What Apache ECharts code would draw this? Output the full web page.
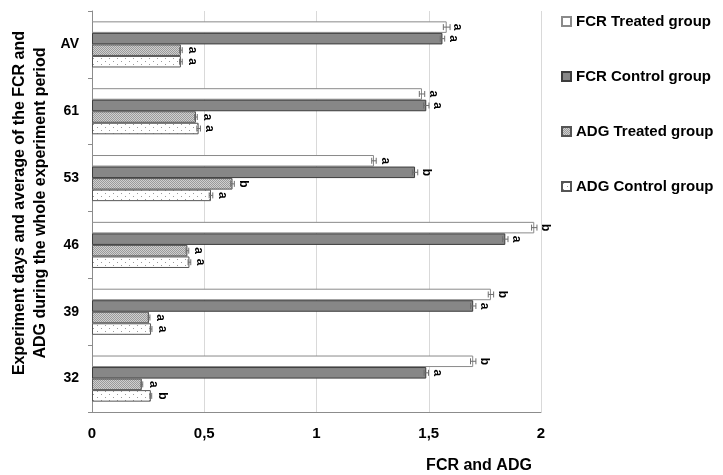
<!DOCTYPE html>
<html>
<head>
<meta charset="utf-8">
<script src="https://cdn.jsdelivr.net/npm/echarts@6/dist/echarts.min.js"></script>
<style>
html,body{margin:0;padding:0;background:#fff;}
#chart{width:723px;height:475px;}
</style>
</head>
<body>
<div id="chart"></div>
<script>
// ---- data ----
var categories = ['AV', '61', '53', '46', '39', '32'];
var seriesNames = ['FCR Treated group', 'FCR Control group', 'ADG Treated group', 'ADG Control group'];
var fcrTreated = [1.58, 1.47, 1.256, 1.97, 1.777, 1.698];
var fcrControl = [1.561, 1.489, 1.439, 1.841, 1.698, 1.489];
var adgTreated = [0.396, 0.463, 0.626, 0.425, 0.254, 0.222];
var adgControl = [0.396, 0.475, 0.53, 0.434, 0.263, 0.262];
var fcrTreatedErr = [0.015, 0.012, 0.01, 0.012, 0.012, 0.012];
var fcrControlErr = [0.01, 0.012, 0.012, 0.012, 0.012, 0.01];
var adgTreatedErr = [0.006, 0.006, 0.008, 0.006, 0.004, 0.004];
var adgControlErr = [0.006, 0.008, 0.008, 0.006, 0.004, 0.004];
var fcrTreatedSig = ['a', 'a', 'a', 'b', 'b', 'b'];
var fcrControlSig = ['a', 'a', 'b', 'a', 'a', 'a'];
var adgTreatedSig = ['a', 'a', 'b', 'a', 'a', 'a'];
var adgControlSig = ['a', 'a', 'a', 'a', 'a', 'b'];
var xTicks = [0, 0.5, 1, 1.5, 2];

var values = [fcrTreated, fcrControl, adgTreated, adgControl];
var errs = [fcrTreatedErr, fcrControlErr, adgTreatedErr, adgControlErr];
var sigs = [fcrTreatedSig, fcrControlSig, adgTreatedSig, adgControlSig];

// ---- patterns ----
function makePattern(w, h, bg, dots, dotColor) {
  var c = document.createElement('canvas');
  c.width = w; c.height = h;
  var ctx = c.getContext('2d');
  ctx.fillStyle = bg; ctx.fillRect(0, 0, w, h);
  ctx.fillStyle = dotColor;
  dots.forEach(function (d) { ctx.fillRect(d[0], d[1], 1, 1); });
  return c;
}
var densePat = makePattern(2, 2, '#d0d0d0', [[0, 0], [1, 1]], '#9a9a9a');
var sparsePat = makePattern(8, 6, '#ffffff', [[1, 1], [5, 4]], '#9a9a9a');

var fills = [
  '#ffffff',
  '#878787',
  { image: densePat, repeat: 'repeat' },
  { image: sparsePat, repeat: 'repeat' }
];
var borders = ['#8a8a8a', '#3c3c3c', '#555555', '#555555'];

var FONT = 'Liberation Sans, Arial, sans-serif';
var catGapPct = 31;

var series = [];
seriesNames.forEach(function (name, i) {
  series.push({
    name: name,
    type: 'bar',
    data: values[i],
    barGap: '0%',
    barCategoryGap: catGapPct + '%',
    itemStyle: { color: fills[i], borderColor: borders[i], borderWidth: 1 },
    label: {
      show: true,
      position: 'right',
      distance: 11,
      rotate: -90,
      align: 'center',
      verticalAlign: 'middle',
      color: '#000',
      fontWeight: 'bold',
      fontSize: 12,
      fontFamily: FONT,
      formatter: function (p) { return sigs[i][p.dataIndex]; }
    },
    z: 2
  });
});

// error bars
var errData = [];
for (var s = 0; s < 4; s++) {
  for (var k = 0; k < categories.length; k++) {
    errData.push([values[s][k], k, s, errs[s][k]]);
  }
}
series.push({
  type: 'custom',
  name: 'err',
  data: errData,
  z: 3,
  silent: true,
  encode: { x: 0, y: 1 },
  renderItem: function (params, api) {
    var v = api.value(0), cat = api.value(1), si = api.value(2), e = api.value(3);
    var bandH = api.size([0, 1])[1];
    var groupH = bandH * (1 - catGapPct / 100);
    var bw = groupH / 4;
    var center = api.coord([v, cat]);
    var y = center[1] - groupH / 2 + bw * (si + 0.5);
    var x1 = api.coord([v - e, cat])[0];
    var x2 = api.coord([v + e, cat])[0];
    var cap = 3;
    var st = { stroke: '#6e6e6e', lineWidth: 1 };
    return {
      type: 'group',
      children: [
        { type: 'line', shape: { x1: x1, y1: y, x2: x2, y2: y }, style: st },
        { type: 'line', shape: { x1: x1, y1: y - cap, x2: x1, y2: y + cap }, style: st },
        { type: 'line', shape: { x1: x2, y1: y - cap, x2: x2, y2: y + cap }, style: st }
      ]
    };
  }
});

var chart = echarts.init(document.getElementById('chart'));
chart.setOption({
  animation: false,
  backgroundColor: '#fff',
  grid: { left: 92, right: 182, top: 11, bottom: 63, containLabel: false },
  legend: {
    data: seriesNames,
    orient: 'vertical',
    icon: 'rect',
    left: 556,
    top: 9,
    itemWidth: 9,
    itemHeight: 9,
    itemGap: 40,
    textStyle: { fontSize: 15, fontWeight: 'bold', color: '#000', fontFamily: FONT },
    selectedMode: false
  },
  xAxis: {
    type: 'value',
    min: xTicks[0],
    max: xTicks[xTicks.length - 1],
    interval: 0.5,
    axisLine: { show: true, lineStyle: { color: '#8c8c8c', width: 1 } },
    axisTick: { show: false },
    splitLine: { show: true, lineStyle: { color: '#d9d9d9', width: 1 } },
    axisLabel: {
      margin: 14,
      fontSize: 15,
      fontWeight: 'bold',
      color: '#000',
      fontFamily: FONT,
      formatter: function (v) { return String(v).replace('.', ','); }
    }
  },
  yAxis: {
    type: 'category',
    data: categories,
    inverse: true,
    axisLine: { show: true, lineStyle: { color: '#8c8c8c', width: 1 } },
    axisTick: { show: true, length: 4, lineStyle: { color: '#8c8c8c' } },
    axisLabel: {
      margin: 13,
      fontSize: 14,
      fontWeight: 'bold',
      color: '#000',
      fontFamily: FONT
    }
  },
  graphic: [
    {
      type: 'text',
      x: 30,
      y: 203,
      rotation: Math.PI / 2,
      style: {
        text: 'Experiment days and average of the FCR and\nADG during the whole experiment period',
        textAlign: 'center',
        textVerticalAlign: 'middle',
        font: 'bold 16px ' + FONT,
        lineHeight: 21,
        fill: '#000'
      }
    },
    {
      type: 'text',
      x: 479,
      y: 466,
      style: {
        text: 'FCR and ADG',
        textAlign: 'center',
        textVerticalAlign: 'middle',
        font: 'bold 16px ' + FONT,
        fill: '#000'
      }
    }
  ],
  series: series
});
</script>
</body>
</html>
